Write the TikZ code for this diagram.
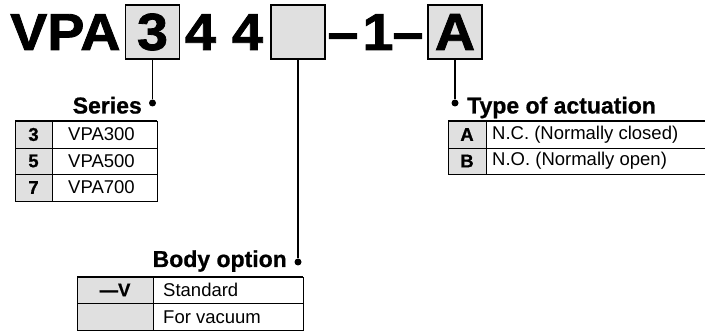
\documentclass[tikz,border=0pt]{standalone}
\usepackage{fontspec}
\setmainfont{Liberation Sans}
\newfontfamily\heavyfont{Liberation Sans Bold}[FakeStretch=1.07,FakeBold=1.6]
\newfontfamily\headfont{Liberation Sans Bold}[FakeBold=0.8]
\usepackage{tikz}
\definecolor{boxgray}{HTML}{E0E0E0}

\begin{document}
\begin{tikzpicture}[x=1pt,y=-1pt,
  big/.style={font=\fontsize{52}{52}\selectfont\heavyfont,inner sep=0pt},
  codebox/.style={big,draw,line width=1.8pt,fill=boxgray,minimum width=54pt,minimum height=54pt},
  head/.style={font=\fontsize{23}{23}\selectfont\headfont,inner sep=0pt},
  cell/.style={font=\fontsize{18.5}{18.5}\selectfont,inner sep=0pt},
  codecell/.style={font=\fontsize{18.5}{18.5}\selectfont\headfont,inner sep=0pt},
  dot/.style={circle,fill,inner sep=0pt,minimum size=7pt},
  conn/.style={line width=1.5pt}]
  \useasboundingbox (0,0) rectangle (705,331);
  % model number
  \node[big,anchor=base west] (vpa) at (10,50) {VPA};
  \node[codebox] (b1) at (152.5,32) {3};
  \node[big,anchor=base] (n4a) at (200.5,50) {4};
  \node[big,anchor=base] (n4b) at (247.5,50) {4};
  \node[codebox] (b2) at (298,32) {};
  \node[big,anchor=base] (d1) at (343,50) {–};
  \node[big,anchor=base] (one) at (378,50) {1};
  \node[big,anchor=base] (d2) at (408,50) {–};
  \node[codebox] (b3) at (455,32) {A};
  % leaders
  \node[dot] (sdot) at (b1 |- 0,103) {};
  \node[dot] (bdot) at (b2 |- 0,262) {};
  \node[dot] (tdot) at (b3 |- 0,103) {};
  \draw[conn] (b1) -- (sdot);
  \draw[conn] (b2) -- (bdot);
  \draw[conn] (b3) -- (tdot);
  \node[head,anchor=base east] (series) at (142,113.5) {Series};
  \node[head,anchor=base east] (body) at (287,267) {Body option};
  \node[head,anchor=base west] (type) at (467,113.5) {Type of actuation};
  % series table
  \fill[boxgray] (15,121) rectangle (52,201);
  \draw[thin] (15,121) rectangle (157,201);
  \draw[thin] (52,121) -- (52,201);
  \foreach \y in {148,174} \draw[thin] (15,\y) -- (157,\y);
  \draw[line width=1.6pt] (15,121) -- (157,121);
  \foreach \c/\t/\y [count=\i] in {3/VPA300/134.5,5/VPA500/161,7/VPA700/187.5} {
    \node[codecell] (sc\i) at (33.5,\y) {\c};
    \node[cell] (st\i) at (101.5,\y) {\t};
  }
  % type table
  \fill[boxgray] (448,121) rectangle (486,174);
  \draw[thin] (705,174) -- (448,174) -- (448,121);
  \draw[thin] (486,121) -- (486,174);
  \draw[thin] (448,148) -- (705,148);
  \draw[line width=1.6pt] (448,121) -- (705,121);
  \foreach \c/\t/\y [count=\i] in {A/N.C. (Normally closed)/134.5,B/N.O. (Normally open)/161} {
    \node[codecell] (tc\i) at (467,\y) {\c};
    \node[cell,anchor=west] (tt\i) at (492,\y) {\t};
  }
  % body option table
  \fill[boxgray] (77,277) rectangle (153,330);
  \draw[thin] (77,277) rectangle (303,330);
  \draw[thin] (153,277) -- (153,330);
  \draw[thin] (77,303.5) -- (303,303.5);
  \draw[line width=1.6pt] (77,277) -- (303,277);
  \node[codecell] (bc1) at (115,290) {—V};
  \node[cell,anchor=west] (bt1) at (163,290) {Standard};
  \node[cell,anchor=west] (bt2) at (163,317) {For vacuum};
\end{tikzpicture}
\end{document}
